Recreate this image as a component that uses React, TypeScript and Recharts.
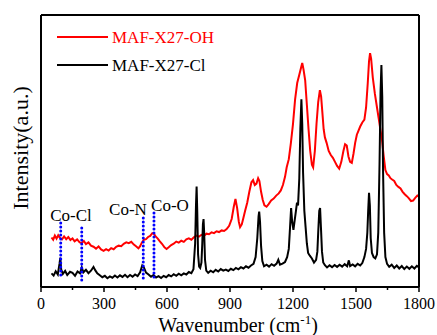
import React from 'react';
import {
  LineChart,
  Line,
  XAxis,
  YAxis,
  ReferenceLine,
  Customized
} from 'recharts';

// Raman spectra, wavenumber (cm-1) vs intensity (a.u., offset traces)
const OH_WAVE = [
  50, 58, 66, 74, 82, 90, 100, 110, 120, 130, 140, 150, 160, 172, 184, 194, 204, 214, 226, 238,
  250, 262, 274, 286, 298, 310, 322, 334, 346, 358, 370, 382, 394, 406, 418, 430, 442, 454, 464, 472,
  480, 490, 500, 510, 520, 530, 538, 546, 556, 566, 576, 588, 598, 608, 620, 632, 644, 656, 668, 680,
  692, 704, 716, 728, 740, 752, 764, 776, 788, 800, 812, 824, 836, 848, 860, 872, 884, 896, 908, 918,
  926, 934, 942, 948, 956, 964, 972, 982, 992, 1002, 1010, 1018, 1026, 1034, 1040, 1048, 1056, 1064, 1074, 1084,
  1096, 1108, 1120, 1132, 1142, 1152, 1162, 1170, 1180, 1190, 1200, 1210, 1220, 1230, 1238, 1244, 1250, 1258, 1266, 1274,
  1282, 1290, 1296, 1304, 1312, 1320, 1328, 1334, 1340, 1346, 1352, 1360, 1370, 1380, 1390, 1400, 1410, 1420, 1430, 1440,
  1448, 1456, 1464, 1472, 1480, 1488, 1496, 1504, 1512, 1520, 1530, 1540, 1548, 1556, 1562, 1567, 1572, 1580, 1590, 1600,
  1608, 1616, 1624, 1632, 1640, 1648, 1656, 1664, 1672, 1682, 1692, 1702, 1712, 1722, 1732, 1742, 1752, 1762, 1772, 1782,
  1792, 1800
];
const OH_INTENSITY = [
  18.2, 17.4, 18.9, 17.8, 19.0, 18.1, 17.5, 18.6, 17.6, 18.4, 17.3, 17.9, 16.8, 17.5, 16.4, 16.2, 16.9, 15.8, 16.4, 15.2,
  14.8, 14.1, 14.9, 13.8, 13.3, 13.9, 13.4, 14.3, 13.9, 14.8, 15.2, 15.0, 15.9, 16.4, 16.1, 16.6, 15.6, 14.9, 14.2, 15.0,
  16.3, 17.4, 17.6, 18.4, 18.8, 19.8, 19.5, 18.6, 17.8, 16.8, 15.9, 14.6, 14.0, 14.6, 15.4, 15.9, 16.7, 16.3, 17.0, 16.6,
  17.5, 17.9, 17.4, 18.3, 18.9, 18.5, 19.2, 18.8, 19.6, 19.4, 20.1, 19.8, 20.5, 20.2, 20.8, 20.6, 21.3, 22.5, 25.0, 29.5,
  32.4, 29.0, 24.0, 22.0, 23.0, 25.5, 28.0, 31.0, 35.0, 38.5, 39.3, 37.5, 38.0, 40.0, 39.0, 35.0, 32.0, 30.0, 29.5, 30.5,
  31.8, 32.5, 33.6, 34.4, 35.5, 37.5, 40.5, 44.0, 47.0, 53.0, 60.0, 69.0, 75.0, 78.0, 80.5, 82.4, 80.0, 76.0, 67.0, 58.0,
  50.0, 45.0, 44.0, 50.0, 60.0, 68.0, 72.4, 70.0, 64.0, 58.0, 55.0, 53.0, 50.0, 48.5, 47.5, 46.0, 44.5, 43.5, 46.0, 50.0,
  52.5, 52.0, 48.0, 46.0, 45.6, 49.0, 53.0, 56.0, 57.5, 59.0, 60.5, 61.5, 66.0, 75.0, 83.0, 86.0, 84.0, 77.0, 71.0, 66.0,
  62.0, 58.0, 54.0, 48.0, 43.0, 41.5, 41.0, 40.0, 39.5, 39.0, 37.5, 36.8, 36.2, 35.0, 34.1, 33.4, 32.6, 31.6, 31.8, 32.8,
  33.6, 33.2
];

const CL_WAVE = [
  50, 60, 70, 80, 88, 92, 96, 104, 115, 125, 138, 150, 162, 174, 186, 194, 202, 214, 226, 238,
  250, 258, 268, 280, 292, 304, 316, 328, 340, 352, 364, 376, 388, 400, 412, 424, 436, 448, 460, 472,
  482, 490, 500, 512, 524, 536, 548, 560, 572, 584, 596, 608, 620, 632, 644, 656, 668, 680, 692, 704,
  716, 726, 734, 738, 741, 744, 748, 753, 758, 764, 768, 771, 774, 777, 781, 787, 796, 808, 820, 832,
  844, 856, 868, 880, 892, 904, 916, 928, 940, 952, 964, 976, 988, 1000, 1012, 1022, 1030, 1036, 1039, 1043,
  1048, 1054, 1062, 1074, 1086, 1098, 1110, 1122, 1130, 1138, 1150, 1162, 1172, 1180, 1186, 1191, 1196, 1202, 1208, 1214,
  1219, 1224, 1230, 1235, 1240, 1244, 1248, 1254, 1260, 1266, 1272, 1280, 1290, 1300, 1310, 1316, 1320, 1325, 1329, 1333,
  1338, 1344, 1352, 1362, 1374, 1386, 1398, 1410, 1422, 1434, 1446, 1458, 1466, 1472, 1484, 1496, 1508, 1520, 1530, 1540,
  1548, 1554, 1558, 1562, 1566, 1570, 1576, 1584, 1592, 1600, 1606, 1612, 1617, 1621, 1625, 1629, 1634, 1640, 1648, 1658,
  1670, 1682, 1694, 1706, 1718, 1730, 1742, 1754, 1766, 1778, 1790, 1800
];
const CL_INTENSITY = [
  5.0, 4.2, 5.8, 4.6, 8.5, 10.8, 6.5, 4.8, 5.9, 4.4, 5.6, 5.2, 4.1, 5.7, 5.0, 7.2, 5.4, 6.3, 5.1, 6.0,
  7.4, 6.2, 5.0, 4.3, 3.6, 4.1, 3.2, 3.9, 3.4, 4.2, 3.5, 4.3, 3.7, 4.5, 3.6, 4.4, 3.8, 4.6, 4.0, 5.4,
  7.9, 7.2, 5.3, 4.6, 3.8, 4.4, 3.5, 4.0, 3.3, 4.1, 3.6, 4.4, 3.9, 4.7, 4.1, 4.9, 4.3, 5.0, 4.6, 5.5,
  5.1, 6.5, 16.0, 30.0, 36.9, 28.0, 12.0, 7.5, 7.0, 9.0, 16.0, 23.0, 25.0, 20.0, 10.0, 6.0, 5.2, 6.0, 5.4, 6.3,
  5.7, 6.6, 6.0, 6.4, 5.9, 6.7, 6.2, 7.0, 6.5, 7.3, 6.8, 7.6, 7.1, 7.9, 8.5, 11.0, 18.0, 26.0, 27.7, 24.0,
  15.0, 9.5, 7.6, 8.2, 7.5, 8.4, 7.8, 8.6, 10.0, 8.2, 8.6, 9.2, 11.0, 14.0, 22.0, 29.0, 24.0, 21.0, 24.5, 28.0,
  31.0, 30.0, 40.0, 58.0, 69.0, 60.0, 42.0, 28.0, 22.0, 16.0, 12.5, 11.5, 10.5, 9.0, 10.0, 13.0, 20.0, 28.0, 29.0, 22.0,
  13.0, 9.0, 8.0, 7.2, 8.0, 7.3, 8.1, 7.4, 8.2, 7.5, 8.4, 7.6, 9.8, 7.7, 8.3, 7.6, 8.5, 7.9, 8.8, 11.0,
  14.0, 20.0, 28.0, 34.6, 30.0, 18.0, 12.5, 11.0, 10.5, 12.0, 20.0, 45.0, 72.0, 81.6, 70.0, 42.0, 20.0, 11.0, 8.5, 7.4,
  8.2, 7.0, 7.9, 6.8, 7.7, 6.6, 7.5, 6.7, 7.6, 6.8, 7.8, 7.2
];

const MAJOR_TICKS = [0, 300, 600, 900, 1200, 1500, 1800];
const MINOR_TICKS = [150, 450, 750, 1050, 1350, 1650];

// blue dotted markers: [wavenumber, top, bottom]
const BANDS = [
  [94, 23.5, 3.3],
  [194, 21.7, 1.5],
  [487, 25.4, 2.6],
  [538, 27.2, 2.6]
];

const ohData = OH_WAVE.map((x, i) => ({ x, y: OH_INTENSITY[i] }));
const clData = CL_WAVE.map((x, i) => ({ x, y: CL_INTENSITY[i] }));
const allTicks = [...MAJOR_TICKS, ...MINOR_TICKS].sort((a, b) => a - b);

const FONT = '"Liberation Serif", "Times New Roman", serif';

const AxisTick = ({ x, y, payload }: any) => {
  const major = payload.value % 300 === 0;
  return (
    <g>
      <line x1={x} x2={x} y1={y} y2={y + (major ? 5 : 3)} stroke="#000" strokeWidth={1.5} />
      {major && (
        <text x={x} y={y + 22} textAnchor="middle" fontSize={16} fontFamily={FONT} fill="#000">
          {payload.value}
        </text>
      )}
    </g>
  );
};

const Overlay = () => (
  <g fontFamily={FONT}>
    {/* legend */}
    <line x1={57} x2={108} y1={37} y2={37} stroke="#ff0000" strokeWidth={2} />
    <text x={112} y={43} fontSize={17} fill="#ff0000">MAF-X27-OH</text>
    <line x1={57} x2={108} y1={65} y2={65} stroke="#000" strokeWidth={2} />
    <text x={112} y={71} fontSize={17} fill="#000">MAF-X27-Cl</text>
    {/* band labels */}
    <text x={71} y={221} fontSize={17} textAnchor="middle">Co-Cl</text>
    <text x={128} y={215} fontSize={17} textAnchor="middle">Co-N</text>
    <text x={170} y={211} fontSize={17} textAnchor="middle">Co-O</text>
    {/* axis titles */}
    <text
      x={20}
      y={148}
      fontSize={22}
      textAnchor="middle"
      dominantBaseline="central"
      transform="rotate(-90 20 148)"
    >
      Intensity(a.u.)
    </text>
    <text x={238} y={332} fontSize={20} textAnchor="middle">
      Wavenumber (cm<tspan fontSize={13} dy={-8}>-1</tspan><tspan dy={8}>)</tspan>
    </text>
  </g>
);

export default function App() {
  return (
    <div style={{ position: 'absolute', left: 0, top: 0, background: '#fff' }}>
      <LineChart width={437} height={335} margin={{ top: 14, right: 17, bottom: 18, left: 40 }}>
        <XAxis
          xAxisId="main"
          type="number"
          dataKey="x"
          domain={[0, 1800]}
          ticks={allTicks}
          interval={0}
          height={30}
          tickSize={0}
          tickMargin={0}
          tickLine={false}
          tick={<AxisTick />}
          axisLine={{ stroke: '#000', strokeWidth: 2 }}
          allowDataOverflow
        />
        <XAxis
          xAxisId="top"
          orientation="top"
          type="number"
          dataKey="x"
          domain={[0, 1800]}
          height={1}
          tick={false}
          tickLine={false}
          axisLine={{ stroke: '#000', strokeWidth: 2 }}
        />
        <YAxis
          yAxisId="left"
          type="number"
          domain={[0, 100]}
          width={1}
          tick={false}
          tickLine={false}
          axisLine={{ stroke: '#000', strokeWidth: 2 }}
          allowDataOverflow
        />
        <YAxis
          yAxisId="right"
          orientation="right"
          type="number"
          domain={[0, 100]}
          width={1}
          tick={false}
          tickLine={false}
          axisLine={{ stroke: '#000', strokeWidth: 2 }}
        />
        <Line
          xAxisId="main"
          yAxisId="left"
          data={ohData}
          dataKey="y"
          type="linear"
          stroke="#ff0000"
          strokeWidth={2}
          dot={false}
          isAnimationActive={false}
        />
        <Line
          xAxisId="main"
          yAxisId="left"
          data={clData}
          dataKey="y"
          type="linear"
          stroke="#000"
          strokeWidth={2}
          dot={false}
          isAnimationActive={false}
        />
        {BANDS.map(([wn, top, bottom]) => (
          <ReferenceLine
            key={wn}
            xAxisId="main"
            yAxisId="left"
            segment={[{ x: wn, y: top }, { x: wn, y: bottom }]}
            stroke="#0000ff"
            strokeWidth={3}
            strokeDasharray="0 4"
            strokeLinecap="round"
            ifOverflow="visible"
          />
        ))}
        <Customized component={<Overlay />} />
      </LineChart>
    </div>
  );
}
